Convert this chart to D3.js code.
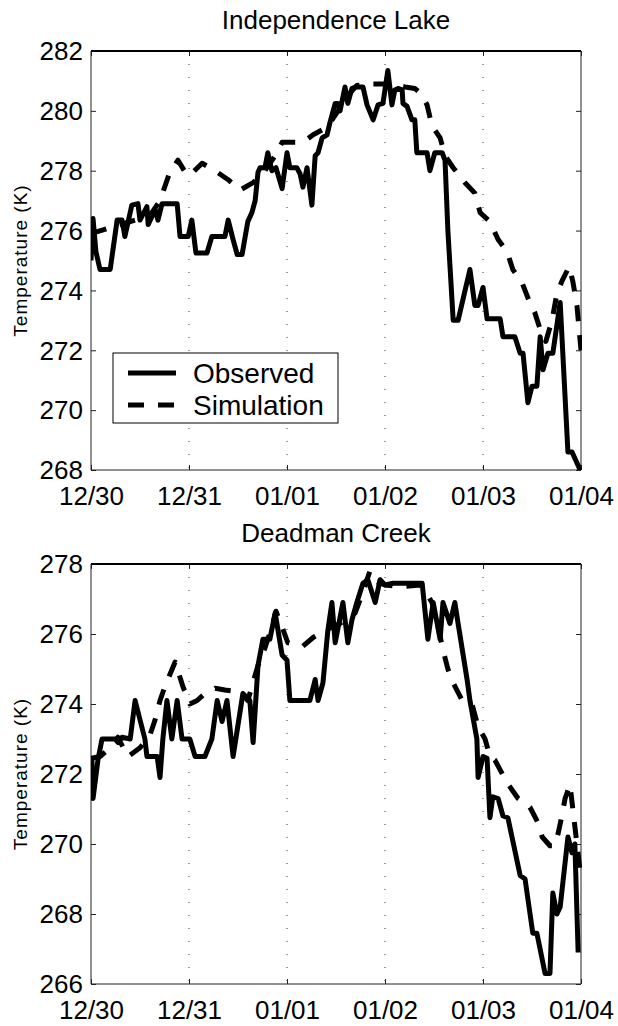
<!DOCTYPE html>
<html>
<head>
<meta charset="utf-8">
<script src="https://cdn.jsdelivr.net/npm/d3@7"></script>
<style>
  body { margin: 0; background: #fff; }
  svg { display: block; }
  text { font-family: "Liberation Sans", Arial, Helvetica, sans-serif; fill: #000; }
</style>
</head>
<body>
<svg id="chart" width="618" height="1026"></svg>
<script>
// Day boundaries (hours since 12/30 00:00) and their labels
const dayHours = [0, 24, 48, 72, 96, 120];
const dayLabels = ["12/30", "12/31", "01/01", "01/02", "01/03", "01/04"];

// Independence Lake
const indepTicks = [268, 270, 272, 274, 276, 278, 280, 282];
const indepObsHours = [0.0, 0.5, 1.2, 2.2, 4.7, 6.4, 7.6, 8.3, 10.0, 11.5, 12.0, 13.7, 14.0, 15.7, 16.4, 17.4,
  21.1, 21.8, 23.8, 24.7, 25.7, 28.4, 29.6, 32.8, 33.6, 34.8, 35.8, 37.0, 38.4, 39.4, 40.2, 40.9,
  41.4, 42.6, 43.3, 44.3, 45.3, 46.8, 48.0, 48.7, 50.4, 51.2, 51.9, 52.9, 54.1, 54.9, 55.6, 56.6,
  57.8, 58.5, 59.8, 60.5, 61.0, 62.2, 62.9, 63.9, 65.1, 66.6, 67.6, 69.1, 70.3, 71.5, 72.7, 73.7,
  74.4, 75.2, 76.2, 76.4, 77.4, 78.6, 79.3, 79.8, 82.3, 83.0, 84.2, 86.0, 86.7, 87.4, 88.7, 89.9,
  92.8, 94.0, 94.8, 96.0, 97.0, 100.2, 100.9, 103.8, 105.1, 105.8, 107.0, 108.0, 109.2, 110.0, 110.7,
  111.9, 113.1, 114.9, 116.8, 117.8, 119.8];
const indepObsTemps = [275.0, 276.4, 275.3, 274.7, 274.7, 276.35, 276.35, 275.8, 276.85, 276.9, 276.35, 276.8, 276.2, 276.7, 276.35, 276.9,
  276.9, 275.8, 275.8, 276.35, 275.25, 275.25, 275.8, 275.8, 276.35, 275.7, 275.2, 275.2, 276.3, 276.6, 277.0, 277.95,
  278.1, 278.1, 278.6, 278.0, 278.1, 277.4, 278.6, 278.1, 278.1, 277.9, 277.45, 278.1, 276.85, 278.5, 278.6, 279.1,
  279.2, 279.6, 280.25, 280.25, 280.0, 280.8, 280.25, 280.75, 280.8, 280.8, 280.2, 279.7, 280.2, 280.25, 281.35, 280.2,
  280.7, 280.75, 280.7, 280.25, 280.15, 279.7, 279.7, 278.6, 278.6, 278.0, 278.6, 278.6, 278.35, 276.0, 273.0, 273.0,
  274.7, 273.5, 273.5, 274.1, 273.05, 273.05, 272.45, 272.45, 271.9, 271.9, 270.25, 270.8, 270.8, 272.45, 271.35,
  271.9, 271.9, 273.6, 268.6, 268.6, 268.0];
const indepSimHours = [0, 4.7, 9.6, 14.4, 16.9, 19.3, 21.3, 23.3, 24.2, 27.2, 30.4, 33.6, 36.5, 39.7, 42.6, 45.1,
  46.8, 50.4, 52.4, 54.4, 57.8, 60.5, 62.2, 65.1, 69.1, 73.2, 76.9, 79.3, 80.6, 82.3, 83.5, 85.5,
  86.7, 88.7, 91.6, 94.0, 95.3, 97.7, 99.7, 101.9, 103.3, 105.6, 107.0, 108.7, 110.0, 111.4, 112.9,
  114.1, 115.3, 117.1, 118.0, 119.0, 120.0];
const indepSimTemps = [275.9, 276.1, 276.3, 276.5, 277.0, 277.95, 278.35, 277.9, 277.85, 278.25, 278.0, 277.7, 277.35, 277.6, 278.0, 278.5,
  278.95, 278.95, 279.0, 279.2, 279.45, 280.0, 280.4, 280.85, 280.9, 280.9, 280.8, 280.75, 280.6, 280.2, 279.5, 279.1,
  278.5, 278.1, 277.6, 277.25, 276.6, 276.3, 275.7, 275.3, 274.7, 274.25, 273.75, 273.25, 272.7, 272.3, 273.0,
  273.9, 274.3, 274.8, 274.3, 273.5, 272.0];

// Deadman Creek
const deadTicks = [266, 268, 270, 272, 274, 276, 278];
const deadObsHours = [0.2, 0.5, 1.7, 2.7, 5.9, 6.6, 7.6, 9.6, 10.8, 13.2, 13.7, 16.2, 16.9, 17.6, 18.6, 19.8,
  21.1, 22.3, 24.2, 25.5, 27.9, 29.6, 30.9, 32.1, 33.3, 34.8, 37.2, 38.9, 39.7, 40.9, 42.1, 43.8,
  45.1, 46.8, 48.0, 48.7, 53.6, 54.9, 55.6, 56.8, 58.0, 59.0, 59.8, 61.7, 62.9, 63.9, 65.1, 66.6,
  67.8, 69.6, 70.8, 72.0, 74.0, 81.1, 82.5, 83.8, 85.5, 86.2, 87.9, 89.1, 89.9, 92.1, 92.8, 94.5,
  94.8, 96.0, 97.0, 97.7, 98.4, 99.7, 100.9, 102.1, 105.1, 106.3, 108.2, 109.2, 111.2, 112.4, 113.1,
  114.1, 114.9, 116.8, 117.8, 118.5, 119.3];
const deadObsTemps = [272.5, 271.3, 272.4, 273.0, 273.0, 272.9, 273.05, 273.0, 274.1, 273.0, 272.5, 272.5, 271.9, 273.0, 274.1, 273.0,
  274.1, 273.0, 273.0, 272.5, 272.5, 273.0, 274.1, 273.5, 274.1, 272.5, 274.3, 274.1, 272.9, 275.1, 275.85, 275.85,
  276.6, 275.4, 275.25, 274.1, 274.1, 274.7, 274.1, 274.6, 276.1, 276.9, 275.75, 276.9, 275.75, 276.4, 276.9, 277.45,
  277.55, 276.9, 277.55, 277.4, 277.45, 277.45, 275.85, 276.9, 275.85, 276.9, 276.3, 276.9, 276.3, 274.7, 274.1, 273.0,
  271.9, 272.5, 272.45, 270.75, 271.35, 271.3, 270.8, 270.75, 269.1, 269.0, 267.45, 267.45, 266.3, 266.3, 268.6,
  268.0, 268.2, 270.2, 269.75, 270.0, 266.9];
const deadSimHours = [0, 2.2, 4.7, 6.6, 8.1, 9.1, 12.0, 14.4, 15.7, 16.9, 18.1, 20.6, 22.5, 24.2, 26.0, 27.4,
  30.4, 32.8, 36.5, 38.4, 40.9, 42.6, 44.3, 45.3, 46.8, 48.2, 51.9, 54.4, 57.3, 61.0, 64.7, 66.6,
  68.3, 69.8, 72.0, 75.7, 80.6, 82.0, 83.5, 85.0, 86.2, 87.4, 88.7, 90.9, 93.3, 94.8, 96.5, 97.7,
  98.9, 101.9, 104.6, 107.5, 109.5, 110.5, 112.4, 113.6, 114.4, 115.3, 116.1, 117.3, 118.0, 118.8, 120.0];
const deadSimTemps = [272.45, 272.5, 272.75, 273.05, 272.7, 272.5, 272.75, 273.1, 273.55, 274.1, 274.5, 275.2, 274.5, 274.0, 274.1, 274.25,
  274.45, 274.4, 274.35, 274.1, 275.1, 275.6, 276.2, 276.65, 276.2, 275.75, 275.65, 275.9, 276.1, 276.3, 276.6, 277.2,
  277.8, 277.5, 277.4, 277.35, 277.4, 277.2, 276.9, 276.2, 275.55, 275.0, 274.6, 274.1, 274.0, 273.35, 273.0, 272.5,
  272.4, 271.75, 271.3, 271.05, 270.6, 270.2, 269.95, 269.95, 270.3, 270.8, 271.3, 271.7, 271.0, 270.2, 269.0];

const seriesNames = ["Observed", "Simulation"];

const panels = [
  { title: "Independence Lake", top: 51, bottom: 470, yDomain: [268, 282], yTicks: indepTicks,
    obs: { hours: indepObsHours, temps: indepObsTemps },
    sim: { hours: indepSimHours, temps: indepSimTemps }, legend: true },
  { title: "Deadman Creek", top: 564, bottom: 984, yDomain: [266, 278], yTicks: deadTicks,
    obs: { hours: deadObsHours, temps: deadObsTemps },
    sim: { hours: deadSimHours, temps: deadSimTemps }, legend: false }
];

const svg = d3.select("#chart");
const left = 91, right = 581;
const LINE_W = 5;
const DASH = "16,14";
const TICK_FONT = 25;

const x = d3.scaleLinear().domain([0, 120]).range([left, right]);

panels.forEach((p, i) => {
  const y = d3.scaleLinear().domain(p.yDomain).range([p.bottom, p.top]);
  const g = svg.append("g");

  // dotted vertical grid at day boundaries
  g.append("g").selectAll("line")
    .data(dayHours.slice(1, -1))
    .join("line")
    .attr("x1", d => x(d)).attr("x2", d => x(d))
    .attr("y1", p.top).attr("y2", p.bottom)
    .attr("stroke", "#333").attr("stroke-width", 1)
    .attr("stroke-dasharray", "1,12");

  // bottom axis (ticks inward) with day labels
  const xAxis = d3.axisBottom(x).tickValues(dayHours)
    .tickFormat((d, k) => dayLabels[k]).tickSize(-5).tickPadding(16);
  const gx = g.append("g").attr("transform", `translate(0,${p.bottom})`).call(xAxis);
  gx.select(".domain").remove();
  gx.selectAll(".tick line").attr("stroke", "#222");
  gx.selectAll(".tick text").attr("font-size", TICK_FONT + 1).attr("dy", "0.74em")
    .style("font-family", '"Liberation Sans", Arial, sans-serif').attr("fill", "#000");

  // top ticks
  g.append("g").attr("transform", `translate(0,${p.top})`)
    .call(d3.axisTop(x).tickValues(dayHours).tickSize(-5).tickFormat(""))
    .call(a => a.select(".domain").remove())
    .selectAll(".tick line").attr("stroke", "#222");

  // left axis
  const yAxis = d3.axisLeft(y).tickValues(p.yTicks).tickFormat(d3.format("d")).tickSize(-5).tickPadding(8);
  const gy = g.append("g").attr("transform", `translate(${left},0)`).call(yAxis);
  gy.select(".domain").remove();
  gy.selectAll(".tick line").attr("stroke", "#222");
  gy.selectAll(".tick text").attr("font-size", TICK_FONT + 1).attr("dy", "0.34em")
    .style("font-family", '"Liberation Sans", Arial, sans-serif').attr("fill", "#000");

  // right ticks
  g.append("g").attr("transform", `translate(${right},0)`)
    .call(d3.axisRight(y).tickValues(p.yTicks).tickSize(-5).tickFormat(""))
    .call(a => a.select(".domain").remove())
    .selectAll(".tick line").attr("stroke", "#222");

  // frame
  g.append("line").attr("x1", left).attr("x2", right).attr("y1", p.top).attr("y2", p.top)
    .attr("stroke", "#000").attr("stroke-width", 2);
  g.append("line").attr("x1", left).attr("x2", right).attr("y1", p.bottom).attr("y2", p.bottom)
    .attr("stroke", "#222").attr("stroke-width", 1);
  g.append("line").attr("x1", left).attr("x2", left).attr("y1", p.top).attr("y2", p.bottom)
    .attr("stroke", "#222").attr("stroke-width", 1);
  g.append("line").attr("x1", right).attr("x2", right).attr("y1", p.top).attr("y2", p.bottom)
    .attr("stroke", "#222").attr("stroke-width", 1);

  // clip for the series
  const clipId = `clip${i}`;
  svg.append("clipPath").attr("id", clipId).append("rect")
    .attr("x", left).attr("y", p.top - 3).attr("width", right - left + 1).attr("height", p.bottom - p.top + 3);

  const line = d3.line().x(d => x(d[0])).y(d => y(d[1]));
  const simPts = d3.zip(p.sim.hours, p.sim.temps);
  const obsPts = d3.zip(p.obs.hours, p.obs.temps);

  const lines = g.append("g").attr("clip-path", `url(#${clipId})`);
  lines.append("path").attr("d", line(obsPts))
    .attr("fill", "none").attr("stroke", "#000").attr("stroke-width", LINE_W)
    .attr("stroke-linejoin", "round");
  lines.append("path").attr("d", line(simPts))
    .attr("fill", "none").attr("stroke", "#000").attr("stroke-width", LINE_W)
    .attr("stroke-dasharray", DASH).attr("stroke-linejoin", "round");

  // title
  g.append("text").attr("x", (left + right) / 2).attr("y", p.top - 22)
    .attr("text-anchor", "middle").attr("font-size", 26).text(p.title);

  // y label
  g.append("text")
    .attr("transform", `translate(27,${(p.top + p.bottom) / 2}) rotate(-90)`)
    .attr("text-anchor", "middle").attr("font-size", 19)
    .attr("letter-spacing", 1).text("Temperature (K)");

  // legend
  if (p.legend) {
    const lg = g.append("g");
    lg.append("rect").attr("x", 113).attr("y", 353).attr("width", 225).attr("height", 70)
      .attr("fill", "#fff").attr("stroke", "#000").attr("stroke-width", 1);
    seriesNames.forEach((name, k) => {
      const ly = 373 + k * 32;
      lg.append("line").attr("x1", 128).attr("x2", 176).attr("y1", ly).attr("y2", ly)
        .attr("stroke", "#000").attr("stroke-width", LINE_W)
        .attr("stroke-dasharray", k === 1 ? DASH : null);
      lg.append("text").attr("x", 193).attr("y", ly + 10).attr("font-size", 28).text(name);
    });
  }
});
</script>
</body>
</html>
